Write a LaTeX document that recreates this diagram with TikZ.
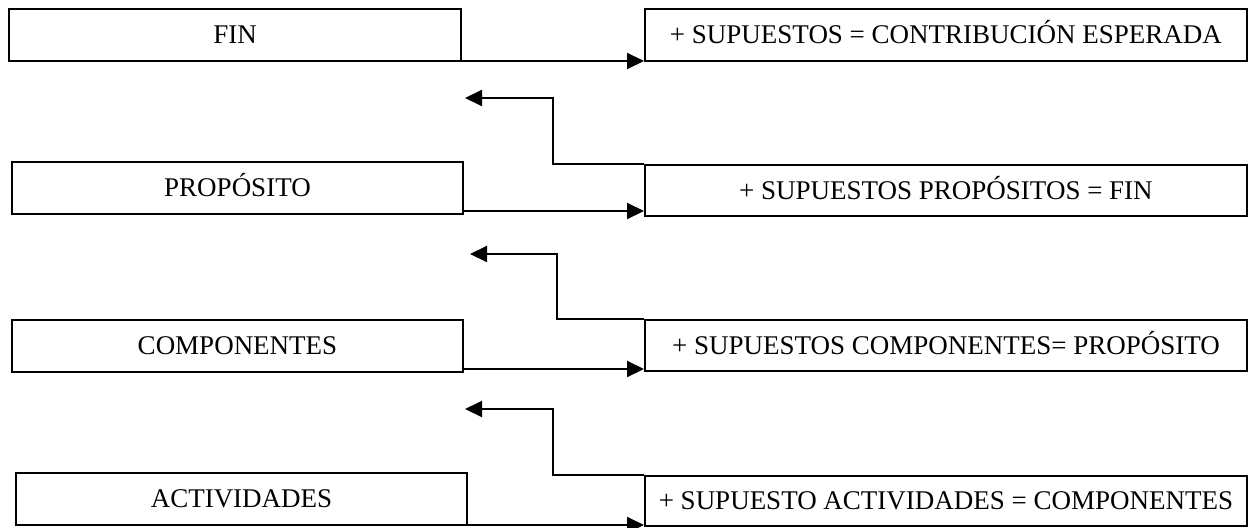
\documentclass[tikz,border=0pt]{standalone}
\usepackage{fontspec}
\setmainfont{Liberation Serif}
\usetikzlibrary{arrows.meta}
\begin{document}
\begin{tikzpicture}[x=1pt,y=-1pt,
  box/.style={draw, line width=2pt, rectangle, inner sep=0pt,
    font=\fontsize{27}{30}\selectfont, text height=17.8pt, text depth=0pt, align=center},
  lbox/.style={box, minimum width=451pt, minimum height=52pt},
  rbox/.style={box, minimum width=602pt},
  arr/.style={line width=2pt, -{Triangle[length=17pt,width=16pt]}}]
\useasboundingbox (0,0) rectangle (1249,527);
\fill[white] (0,0) rectangle (1249,527);
% left boxes
\node[lbox, minimum width=452pt] (fin) at (235,35) {FIN};
\node[lbox] (prop) at (237.5,188) {PROPÓSITO};
\node[lbox] (comp) at (237.5,346) {COMPONENTES};
\node[lbox] (act) at (241.5,499) {ACTIVIDADES};
% right boxes
\node[rbox, minimum height=52pt] (r1) at (946,35) {+ SUPUESTOS = CONTRIBUCIÓN ESPERADA};
\node[rbox, minimum height=51pt] (r2) at (946,190.5) {+ SUPUESTOS PROPÓSITOS = FIN};
\node[rbox, minimum height=51pt] (r3) at (946,345.5) {+ SUPUESTOS COMPONENTES= PROPÓSITO};
\node[rbox, minimum height=50pt] (r4) at (946,501) {+ SUPUESTO ACTIVIDADES = COMPONENTES};
% forward arrows
\coordinate (a1) at ([yshift=1pt]fin.south east);
\coordinate (a2) at ([yshift=4pt]prop.south east);
\coordinate (a3) at ([yshift=4pt]comp.south east);
\coordinate (a4) at ([yshift=1pt]act.south east);
\draw[arr] (a1) -- (a1 -| r1.west);
\draw[arr] (a2) -- (a2 -| r2.west);
\draw[arr] (a3) -- (a3 -| r3.west);
\draw[arr] (a4) -- (a4 -| r4.west);
% back arrows
\coordinate (t1) at (465,98);
\coordinate (t2) at (470,254);
\coordinate (t3) at (465,409);
\draw[arr] (r2.north west) -- ++(-91,0) |- (t1);
\draw[arr] (r3.north west) -- ++(-87,0) |- (t2);
\draw[arr] (r4.north west) -- ++(-91,0) |- (t3);
\end{tikzpicture}
\end{document}
